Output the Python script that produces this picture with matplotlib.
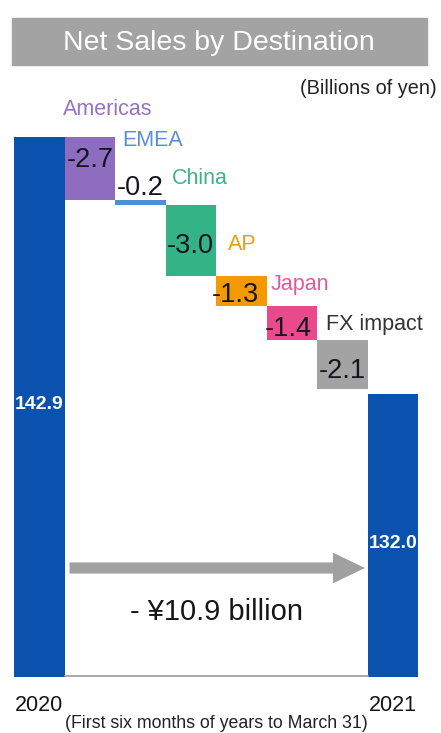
import matplotlib.pyplot as plt
from matplotlib.patches import Rectangle
from matplotlib.transforms import blended_transform_factory

plt.rcParams['font.family'] = ['Liberation Sans', 'DejaVu Sans']

# data (billions of yen)
start_label = "2020"
end_label = "2021"
start_value = 142.9
end_value = 132.0
regions = ["Americas", "EMEA", "China", "AP", "Japan", "FX impact"]
changes = [-2.7, -0.2, -3.0, -1.3, -1.4, -2.1]

bar_color = "#0a52ad"
region_colors = ["#8e6cc0", "#4d8fd8", "#34b386", "#f49a00", "#e94a8c", "#a3a3a3"]
text_colors = ["#9673c2", "#5a8fd6", "#3cb38c", "#f39a10", "#e25a9c", "#333333"]
# label offsets (pixels) from top-left corner of each step bar
name_offsets = [(-2, 27), (7, 60), (6, 26), (12, 31), (4, 22), (9, 15)]
value_offsets = [(0, 8), (0, 15), (0, -6), (-6, -4), (-3, -6), (0, -7)]

fig = plt.figure(figsize=(4.41, 7.33), dpi=100)
W, H = 441, 733
ax = fig.add_axes([14 / W, (H - 677) / H, 404 / W, 590 / H])
ax.set_xlim(-0.5, 7.5)
ax.set_ylim(120, 145)
ax.axis("off")

# total bars
ax.bar([0, 7], [start_value - 120, end_value - 120], bottom=120, width=1.0,
       color=bar_color, linewidth=0)
ax.text(0, (start_value + 120) / 2 + 0.1, f"{start_value:.1f}", color="white",
        fontsize=14, fontweight="bold", ha="center", va="center")
ax.text(7, (end_value + 120) / 2 - 0.35, f"{end_value:.1f}", color="white",
        fontsize=14, fontweight="bold", ha="center", va="center")

# step bars
level = start_value
for i, (name, ch) in enumerate(zip(regions, changes)):
    x = i + 1
    top = level
    ax.bar(x, ch, bottom=top, width=1.0, color=region_colors[i], linewidth=0)
    mid = top + ch / 2
    vdx, vdy = value_offsets[i]
    ax.annotate(f"{ch:.1f}", xy=(x, mid), xytext=(vdx, vdy),
                textcoords="offset pixels", ha="center", va="center",
                fontsize=19.5, color="#151520")
    ndx, ndy = name_offsets[i]
    ax.annotate(name, xy=(x - 0.5, top), xytext=(ndx, ndy),
                textcoords="offset pixels", ha="left", va="center",
                fontsize=15.5, color=text_colors[i], annotation_clip=False)
    level = top + ch

# baseline
ax.plot([0.5, 6.5], [120.05, 120.05], color="#9a9a9a", lw=1.2)

# arrow with total change
trans = blended_transform_factory(ax.transData, ax.transAxes)
ay = (677 - 568) / 590
ax.annotate("", xy=(6.45, ay), xytext=(0.6, ay), xycoords=trans, textcoords=trans,
            arrowprops=dict(arrowstyle="simple,head_length=23,head_width=22,tail_width=8",
                            mutation_scale=1, color="#a0a0a0", shrinkA=0, shrinkB=0,
                            linewidth=0))
total = end_value - start_value
ax.text(3.5, (677 - 612) / 590, f"- \u00a5{abs(total):.1f} billion", transform=trans,
        ha="center", va="center", fontsize=21, color="#151515")

# year labels
for x, lab in [(0, start_label), (7, end_label)]:
    ax.annotate(lab, xy=(x, 120), xytext=(0, -28), textcoords="offset pixels",
                ha="center", va="center", fontsize=15.5, color="#151515",
                annotation_clip=False)

# title band
fig.patches.append(Rectangle((12 / W, (H - 65) / H), 415 / W, 47 / H,
                             transform=fig.transFigure, color="#a3a3a3", zorder=0))
fig.text(219 / W, (H - 43) / H, "Net Sales by Destination", color="white",
         fontsize=20.5, ha="center", va="center")
fig.text(437 / W, (H - 89) / H, "(Billions of yen)", color="#222222",
         fontsize=14.3, ha="right", va="center")
fig.text(216 / W, (H - 723) / H, "(First six months of years to March 31)",
         color="#222222", fontsize=12.8, ha="center", va="center")

fig.savefig("out.png", dpi=100, facecolor="white")
